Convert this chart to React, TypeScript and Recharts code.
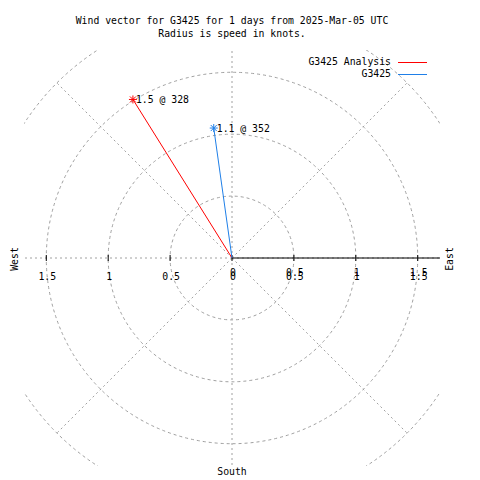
import { ScatterChart, Scatter, XAxis, YAxis, ReferenceLine, ReferenceDot, Legend } from "recharts"

// grid + axis
const RINGS = [0.5, 1, 1.5, 2]
const SPOKES = [0, 45, 90, 135, 180, 225, 270, 315]
const TICKS = [-1.5, -1, -0.5, 0, 0.5, 1, 1.5]
const EAST_TICKS = [0, 0.5, 1, 1.5]

// wind vectors (speed in knots, direction in degrees from north)
const NAMES = ["G3425 Analysis", "G3425"]
const SPEEDS = [1.51, 1.06]
const DIRS = [328, 352]
const COLORS = ["#ff0000", "#1f7fe8"]

const TITLE = ["Wind vector for G3425 for 1 days from 2025-Mar-05 UTC", "Radius is speed in knots."]

const LIM = 1.68
const W = 480
const H = 480
const M = { top: 50, left: 24, right: 40, bottom: 14 }
const UNIT = (W - M.left - M.right) / (2 * LIM)
const FONT = "'DejaVu Sans Mono', monospace"
const GRID = "#a0a0a0"

const rad = (d: number) => (d * Math.PI) / 180

const vectors = NAMES.map((name, i) => ({
  name,
  color: COLORS[i],
  data: [
    { x: 0, y: 0 },
    {
      x: SPEEDS[i] * Math.sin(rad(DIRS[i])),
      y: SPEEDS[i] * Math.cos(rad(DIRS[i])),
      tip: `${SPEEDS[i].toFixed(1)} @ ${DIRS[i]}`,
    },
  ],
}))

const tickData = TICKS.map((v) => ({ x: v, y: 0, label: String(Math.abs(v)) }))
const eastData = EAST_TICKS.map((v) => ({ x: v, y: 0, label: String(v) }))

function Star({ cx, cy, color }: { cx: number; cy: number; color: string }) {
  const s = 4
  return (
    <g stroke={color} strokeWidth={1}>
      <line x1={cx - s} y1={cy} x2={cx + s} y2={cy} />
      <line x1={cx} y1={cy - s} x2={cx} y2={cy + s} />
      <line x1={cx - 3} y1={cy - 3} x2={cx + 3} y2={cy + 3} />
      <line x1={cx - 3} y1={cy + 3} x2={cx + 3} y2={cy - 3} />
    </g>
  )
}

function LegendBox() {
  return (
    <div style={{ position: "relative", width: W, height: 30, fontFamily: FONT, fontSize: 9.8 }}>
      {NAMES.map((n, i) => (
        <div key={n}>
          <div style={{ position: "absolute", right: W - 391, top: i * 12, lineHeight: "12px", whiteSpace: "pre" }}>{n}</div>
          <div style={{ position: "absolute", left: 398, top: i * 12 + 6, width: 29, height: 1, background: COLORS[i] }} />
        </div>
      ))}
    </div>
  )
}

export default function App() {
  return (
    <div style={{ position: "absolute", left: 0, top: 0, width: W, height: H, background: "#fff" }}>
      <ScatterChart width={W} height={H} margin={M}>
        <defs>
          <clipPath id="plotBox">
            <rect x={M.left} y={M.top} width={W - M.left - M.right} height={H - M.top - M.bottom} />
          </clipPath>
        </defs>
        <XAxis type="number" dataKey="x" domain={[-LIM, LIM]} allowDataOverflow hide />
        <YAxis type="number" dataKey="y" domain={[-LIM, LIM]} allowDataOverflow hide />
        {RINGS.map((r) => (
          <ReferenceDot
            key={`ring-${r}`}
            x={0}
            y={0}
            r={r * UNIT}
            ifOverflow="visible"
            shape={(p: any) => (
              <circle
                cx={p.cx}
                cy={p.cy}
                r={r * UNIT}
                fill="none"
                stroke={GRID}
                strokeDasharray="3 3"
                clipPath="url(#plotBox)"
              />
            )}
          />
        ))}
        {SPOKES.map((a) => (
          <ReferenceLine
            key={`spoke-${a}`}
            segment={[{ x: 0, y: 0 }, { x: 2 * Math.cos(rad(a)), y: 2 * Math.sin(rad(a)) }]}
            stroke={GRID}
            strokeDasharray="2 3"
            ifOverflow="hidden"
          />
        ))}
        <ReferenceLine segment={[{ x: 0, y: 0 }, { x: LIM, y: 0 }]} stroke="#000" ifOverflow="hidden" />
        <Scatter
          data={tickData}
          isAnimationActive={false}
          shape={(p: any) => (
            <g>
              <line x1={p.cx} y1={p.cy - 3} x2={p.cx} y2={p.cy + 3} stroke="#000" />
              <text x={p.cx + 1} y={p.cy + 22} textAnchor="middle" fontFamily={FONT} fontSize={9.8} fill="#000">
                {p.payload.label}
              </text>
            </g>
          )}
        />
        <Scatter
          data={eastData}
          isAnimationActive={false}
          shape={(p: any) => (
            <text x={p.cx + 1} y={p.cy + 18} textAnchor="middle" fontFamily={FONT} fontSize={9.8} fill="#000">
              {p.payload.label}
            </text>
          )}
        />
        {vectors.map((v) => (
          <Scatter
            key={v.name}
            name={v.name}
            data={v.data}
            fill={v.color}
            line={{ stroke: v.color, strokeWidth: 1 }}
            isAnimationActive={false}
            shape={(p: any) =>
              p.payload.tip ? (
                <g>
                  <Star cx={p.cx} cy={p.cy} color={v.color} />
                  <text x={p.cx + 3} y={p.cy + 3.5} fontFamily={FONT} fontSize={9.8} fill="#000">
                    {p.payload.tip}
                  </text>
                </g>
              ) : (
                <g />
              )
            }
          />
        ))}
        <Legend
          layout="vertical"
          align="center"
          verticalAlign="middle"
          content={() => <LegendBox />}
          wrapperStyle={{ top: 56, left: 0, width: W, height: 30 }}
        />
      </ScatterChart>
      <svg
        width={W}
        height={H}
        style={{ position: "absolute", left: 0, top: 0, pointerEvents: "none" }}
        fontFamily={FONT}
        fontSize={9.8}
      >
        <text x={232} y={24} textAnchor="middle">{TITLE[0]}</text>
        <text x={232} y={37} textAnchor="middle">{TITLE[1]}</text>
        <text transform="translate(18 259) rotate(-90)" textAnchor="middle">West</text>
        <text transform="translate(453 259) rotate(-90)" textAnchor="middle">East</text>
        <text x={232} y={475} textAnchor="middle">South</text>
      </svg>
    </div>
  )
}
